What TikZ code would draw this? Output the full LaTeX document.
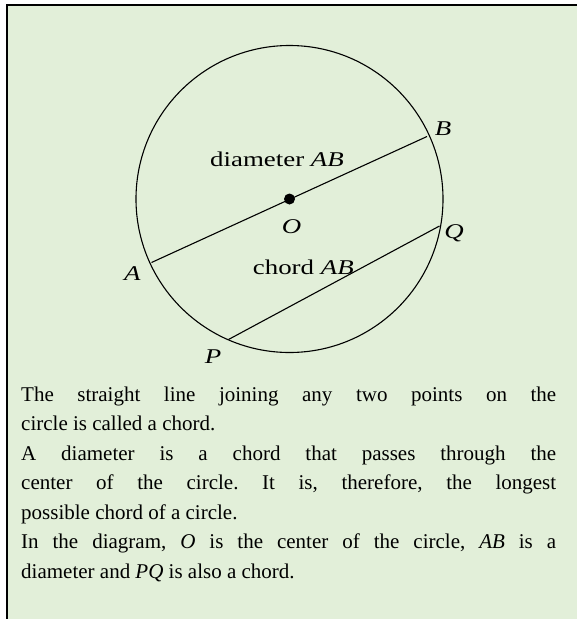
\documentclass[tikz,border=0pt]{standalone}
\usepackage{fontspec}
\setmainfont{Liberation Serif}
\usepackage{graphicx}
\definecolor{bg}{HTML}{E2EFD9}
\newcommand{\lblstretch}[1]{\scalebox{1.28}[1]{#1}}
\frenchspacing
\begin{document}
\begin{tikzpicture}[x=1pt,y=-1pt,
  geo/.style={line width=1.1pt, black},
  lbl/.style={font=\fontsize{21}{25}\selectfont, inner sep=0pt, anchor=base},
  bodyline/.style={font=\fontsize{21}{29.5}\selectfont\frenchspacing, inner sep=0pt, anchor=base west},
  dot/.style={circle, fill=black, inner sep=0pt, minimum size=11pt}]
\useasboundingbox (0,0) rectangle (577,619);
\fill[bg] (6,4) rectangle (577,619);
\draw[line width=2.2pt, line join=miter] (7,619) -- (7,5) -- (577,5);
% geometry
\coordinate (C) at (289.5,199);
\draw[geo] (C) circle[radius=153.5pt];
\coordinate (A) at (151.5,262.5);
\coordinate (B) at (427,136.5);
\coordinate (P) at (228.5,339.5);
\coordinate (Q) at (439.5,226);
\draw[geo] (A) -- (B);
\draw[geo] (P) -- (Q);
\node[dot] (O) at (C) {};
% labels
\node[lbl] (lA) at (132.5,280) {\lblstretch{\textit{A}}};
\node[lbl] (lB) at (443,135) {\lblstretch{\textit{B}}};
\node[lbl] (lO) at (291.5,233) {\lblstretch{\textit{O}}};
\node[lbl] (lP) at (213,363) {\lblstretch{\textit{P}}};
\node[lbl] (lQ) at (454,238) {\lblstretch{\textit{Q}}};
\node[lbl, anchor=base west] (ldia) at (210,166) {\lblstretch{diameter \textit{AB}}};
\node[lbl] (lch) at (303.3,274) {\lblstretch{chord \textit{AB}}};
% body text
\node[bodyline] (t1) at (21,401) {\makebox[535pt][s]{The straight line joining any two points on the}};
\node[bodyline] (t2) at (21,430.5) {circle is called a chord.};
\node[bodyline] (t3) at (21,460) {\makebox[535pt][s]{A diameter is a chord that passes through the}};
\node[bodyline] (t4) at (21,489.5) {\makebox[535pt][s]{center of the circle. It is, therefore, the longest}};
\node[bodyline] (t5) at (21,519) {possible chord of a circle.};
\node[bodyline] (t6) at (21,548.5) {\makebox[535pt][s]{In the diagram, \textit{O} is the center of the circle, \textit{AB} is a}};
\node[bodyline] (t7) at (21,578) {diameter and \textit{PQ} is also a chord.};
\end{tikzpicture}
\end{document}
